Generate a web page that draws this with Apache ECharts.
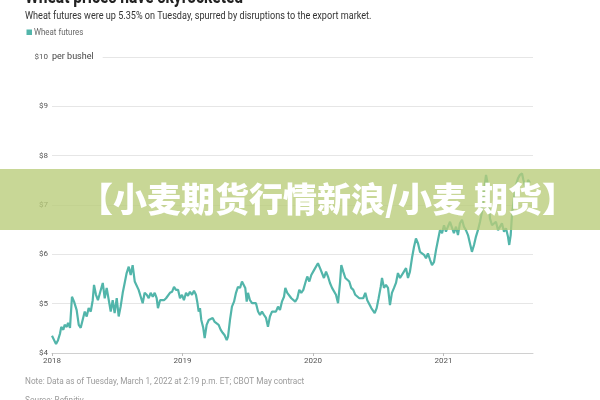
<!DOCTYPE html>
<html><head><meta charset="utf-8">
<script src="https://cdn.jsdelivr.net/npm/echarts@6/dist/echarts.min.js"></script>
<style>html,body{margin:0;padding:0;background:#fff}#c{width:600px;height:400px}</style>
</head><body><div id="c"></div>
<script>
const yearTicks = [2018, 2019, 2020, 2021];
const priceTicks = [4, 5, 6, 7, 8, 9, 10];
const seriesName = 'Wheat futures';
const years = [2018.000,2018.015,2018.031,2018.046,2018.061,2018.071,2018.087,2018.097,2018.113,2018.123,2018.138,2018.153,2018.169,2018.189,2018.205,2018.220,2018.235,2018.251,2018.266,2018.281,2018.297,2018.312,2018.322,2018.337,2018.352,2018.368,2018.389,2018.404,2018.419,2018.434,2018.450,2018.465,2018.480,2018.496,2018.511,2018.526,2018.542,2018.557,2018.572,2018.588,2018.603,2018.618,2018.634,2018.649,2018.664,2018.680,2018.695,2018.710,2018.726,2018.741,2018.756,2018.772,2018.787,2018.802,2018.812,2018.828,2018.843,2018.858,2018.874,2018.889,2018.904,2018.920,2018.935,2018.950,2018.966,2018.981,2018.996,2019.011,2019.027,2019.042,2019.057,2019.073,2019.088,2019.103,2019.113,2019.124,2019.134,2019.144,2019.159,2019.170,2019.185,2019.201,2019.216,2019.231,2019.247,2019.262,2019.277,2019.293,2019.308,2019.323,2019.339,2019.349,2019.364,2019.379,2019.395,2019.410,2019.425,2019.441,2019.456,2019.471,2019.481,2019.492,2019.502,2019.517,2019.533,2019.548,2019.563,2019.579,2019.594,2019.609,2019.625,2019.640,2019.655,2019.670,2019.686,2019.701,2019.716,2019.732,2019.747,2019.762,2019.778,2019.788,2019.803,2019.818,2019.834,2019.849,2019.864,2019.880,2019.895,2019.910,2019.926,2019.941,2019.956,2019.972,2019.987,2020.008,2020.023,2020.038,2020.054,2020.069,2020.084,2020.100,2020.115,2020.130,2020.146,2020.161,2020.176,2020.192,2020.207,2020.217,2020.232,2020.248,2020.263,2020.278,2020.293,2020.309,2020.324,2020.339,2020.355,2020.370,2020.385,2020.401,2020.416,2020.431,2020.447,2020.462,2020.473,2020.488,2020.503,2020.519,2020.529,2020.544,2020.559,2020.575,2020.590,2020.605,2020.621,2020.636,2020.651,2020.667,2020.682,2020.697,2020.713,2020.728,2020.743,2020.759,2020.774,2020.789,2020.805,2020.820,2020.835,2020.851,2020.866,2020.881,2020.897,2020.912,2020.927,2020.943,2020.958,2020.973,2020.989,2021.004,2021.019,2021.034,2021.050,2021.065,2021.080,2021.096,2021.111,2021.126,2021.142,2021.157,2021.172,2021.188,2021.203,2021.218,2021.234,2021.249,2021.264,2021.280,2021.295,2021.310,2021.326,2021.336,2021.346,2021.356,2021.372,2021.387,2021.402,2021.418,2021.433,2021.448,2021.464,2021.479,2021.494,2021.504,2021.515,2021.525,2021.540,2021.556,2021.571,2021.586,2021.602,2021.612,2021.622,2021.636,2021.648,2021.663];
const prices = [4.35,4.33,4.18,4.26,4.39,4.53,4.47,4.57,4.53,4.61,4.51,5.14,5.04,4.87,4.57,4.51,4.47,4.84,4.74,4.91,4.84,5.07,5.38,5.18,5.07,5.22,5.42,5.11,5.32,5.34,4.84,5.07,4.81,5.11,4.74,4.94,5.22,5.42,5.62,5.75,5.58,5.78,5.45,5.42,5.28,5.14,5.01,5.22,5.18,5.11,5.22,5.14,5.22,5.11,4.91,5.07,5.04,5.07,5.11,5.07,5.22,5.24,5.34,5.28,5.28,5.11,5.18,5.07,5.22,5.16,5.24,5.18,5.26,5.18,5.04,4.84,4.91,4.67,4.51,4.30,4.57,4.67,4.63,4.71,4.63,4.67,4.57,4.47,4.41,4.36,4.26,4.33,4.67,4.94,5.04,5.22,5.34,5.32,5.45,5.48,5.32,5.04,5.22,5.07,5.01,4.97,5.01,4.84,4.77,4.84,4.77,4.71,4.53,4.74,4.84,4.87,4.84,4.94,4.87,5.04,5.14,5.32,5.22,5.18,5.11,5.14,5.04,5.11,5.28,5.22,5.28,5.42,5.55,5.45,5.58,5.68,5.72,5.82,5.72,5.68,5.52,5.65,5.55,5.42,5.32,5.28,5.18,5.01,5.42,5.78,5.65,5.52,5.55,5.45,5.32,5.28,5.18,5.22,5.11,5.14,5.11,5.22,5.07,5.04,4.91,4.94,4.81,4.91,5.11,5.34,5.52,5.32,5.38,5.32,4.97,5.22,5.32,5.42,5.62,5.52,5.55,5.65,5.72,5.52,5.65,5.93,6.15,6.32,6.22,6.05,6.09,5.99,5.92,6.02,5.89,5.78,5.84,6.09,6.29,6.49,6.43,6.59,6.46,6.56,6.66,6.63,6.43,6.56,6.39,6.63,6.70,6.56,6.49,6.39,6.22,6.05,6.19,6.36,6.49,6.66,6.86,7.27,7.61,7.47,7.14,6.73,6.59,6.56,6.66,6.49,6.46,6.63,6.46,6.53,6.36,6.19,6.39,6.80,7.14,7.41,7.54,7.61,7.64,7.51,7.41,7.26,7.51,7.45];

const data = years.map((y, i) => [y, prices[i]]);
const chart = echarts.init(document.getElementById('c'), null, {renderer: 'canvas'});
const FONT = 'Roboto';
chart.setOption({
  animation: false,
  backgroundColor: '#fff',
  grid: {left: 52, right: 67, top: 57, bottom: 47, containLabel: false},
  xAxis: {
    type: 'value', min: 2018, max: 2021.686, interval: 1,
    axisLine: {show: true, lineStyle: {color: '#d0d0d0', width: 1}},
    axisTick: {show: true, length: 3, lineStyle: {color: '#bbb'}, customValues: yearTicks},
    axisLabel: {customValues: yearTicks, color: '#555', fontSize: 8, fontFamily: FONT, margin: 4, formatter: v => String(v)},
    splitLine: {show: false}
  },
  yAxis: {
    type: 'value', min: 4, max: 10, interval: 1,
    axisLine: {show: false}, axisTick: {show: false},
    axisLabel: {color: '#555', fontSize: 8, fontFamily: FONT, margin: 4, formatter: v => '$' + v},
    splitLine: {lineStyle: {color: '#e6e6e6', width: 1}}
  },
  series: [{
    name: seriesName, type: 'line', data: data, showSymbol: false, symbol: 'none',
    lineStyle: {color: '#52b5aa', width: 2.2}, z: 2
  }],
  graphic: [
    {type: 'text', left: 25, top: -12, scaleX: 0.78, style: {text: 'Wheat prices have skyrocketed', font: 'bold 20px Roboto', fill: '#222'}},
    {type: 'text', left: 25, top: 11, scaleX: 0.91, style: {text: 'Wheat futures were up 5.35% on Tuesday, spurred by disruptions to the export market.', font: '10px Roboto', fill: '#333'}},
    {type: 'rect', left: 26.5, top: 29.5, shape: {width: 5.5, height: 5.5}, style: {fill: '#52b5aa'}},
    {type: 'text', left: 34, top: 28, scaleX: 0.93, style: {text: seriesName, font: '8.5px Roboto', fill: '#666'}},
    {type: 'text', left: 52, top: 52, style: {text: 'per bushel', font: '9px Roboto', fill: '#444', backgroundColor: '#fff', padding: [0, 9, 0, 0]}, z: 5},
    {type: 'text', left: 25, top: 377, scaleX: 0.97, style: {text: 'Note: Data as of Tuesday, March 1, 2022 at 2:19 p.m. ET; CBOT May contract', font: '8.5px Roboto', fill: '#9a9a9a'}},
    {type: 'text', left: 25, top: 396, scaleX: 0.97, style: {text: 'Source: Refinitiv', font: '8.5px Roboto', fill: '#9a9a9a'}},
    {type: 'rect', left: 0, top: 169, shape: {width: 600, height: 61}, style: {fill: 'rgba(184,204,120,0.78)'}, z: 10},
    {type: 'text', left: 79, top: 182, z: 11, style: {text: '【小麦期货行情新浪/小麦 期货】', font: '900 34px "Noto Sans CJK SC"', fill: '#fff'}}
  ]
});
</script></body></html>
